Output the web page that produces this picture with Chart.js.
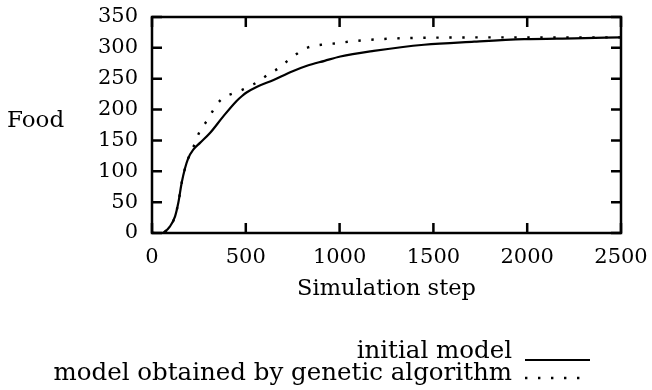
<!DOCTYPE html>
<html>
<head>
<meta charset="utf-8">
<style>
  html, body { margin: 0; padding: 0; background: #fff; }
</style>
</head>
<body>
<canvas id="foodChart" width="652" height="390"></canvas>
<script src="https://cdn.jsdelivr.net/npm/chart.js"></script>
<script>
// initial model
const initialSteps = [0, 50, 60, 96, 123, 140, 158, 176, 193, 220, 256, 309, 380, 451, 480, 506, 560, 648, 740, 826, 920, 1004, 1182, 1450, 1717, 1984, 2251, 2500];
const initialFood = [0, 0, 0.5, 10.7, 27, 48.5, 81, 105, 121, 135, 146, 162, 189, 214, 222, 228, 237, 248, 261, 271, 279, 286, 295, 305, 310, 314, 315.5, 317];

// model obtained by genetic algorithm
const gaSteps = [0, 50, 60, 96, 123, 140, 158, 176, 193, 211, 233, 256, 286, 318, 345, 381, 434, 488, 541, 577, 630, 675, 719, 764, 817, 921, 986, 1049, 1115, 1182, 1321, 1538, 1895, 2500];
const gaFood = [0, 0, 0.5, 10.7, 27, 48.5, 81, 105, 121, 132, 149, 165.5, 179, 195, 208, 219.5, 226.5, 233, 241, 248, 259, 267, 278, 288.5, 299, 305.8, 307.4, 310, 312, 313.5, 315.5, 316.6, 317, 317];

const xTicks = [0, 500, 1000, 1500, 2000, 2500];
const yTicks = [0, 50, 100, 150, 200, 250, 300, 350];

const FONT = 'DejaVu Serif';

function toPoints(xs, ys) {
    return xs.map((x, i) => ({ x: x, y: ys[i] }));
}

// frame with inward ticks on all four sides
const framePlugin = {
    id: 'frame',
    afterDatasetsDraw(chart) {
        const ctx = chart.ctx;
        const a = chart.chartArea;
        const xs = chart.scales.x, ys = chart.scales.y;
        const len = 10;
        ctx.save();
        ctx.strokeStyle = '#000';
        ctx.lineWidth = 2.5;
        ctx.beginPath();
        xTicks.forEach(v => {
            const px = xs.getPixelForValue(v);
            ctx.moveTo(px, a.bottom); ctx.lineTo(px, a.bottom - len);
            ctx.moveTo(px, a.top); ctx.lineTo(px, a.top + len);
        });
        yTicks.forEach(v => {
            const py = ys.getPixelForValue(v);
            ctx.moveTo(a.left, py); ctx.lineTo(a.left + len, py);
            ctx.moveTo(a.right, py); ctx.lineTo(a.right - len, py);
        });
        ctx.stroke();
        ctx.strokeRect(a.left, a.top, a.right - a.left, a.bottom - a.top);
        ctx.restore();
    }
};

// horizontal y title and the legend in the lower right
const labelsPlugin = {
    id: 'labels',
    afterDraw(chart) {
        const ctx = chart.ctx;
        ctx.save();
        ctx.fillStyle = '#000';
        ctx.textBaseline = 'alphabetic';
        ctx.textAlign = 'left';
        ctx.font = '23px "' + FONT + '"';
        ctx.fillText('Food', 7, 127);

        ctx.font = '24.5px "' + FONT + '"';
        const textRows = [358, 380];
        const lineRows = [360, 378];
        chart.data.datasets.forEach((ds, i) => {
            ctx.textAlign = 'right';
            ctx.fillText(ds.label, 512, textRows[i]);
            ctx.beginPath();
            ctx.setLineDash(ds.borderDash || []);
            ctx.lineWidth = ds.borderWidth;
            ctx.strokeStyle = ds.borderColor;
            ctx.moveTo(525, lineRows[i]);
            ctx.lineTo(590, lineRows[i]);
            ctx.stroke();
        });
        ctx.restore();
    }
};

new Chart(document.getElementById('foodChart'), {
    type: 'line',
    data: {
        datasets: [{
            label: 'initial model',
            data: toPoints(initialSteps, initialFood),
            borderColor: '#000',
            borderWidth: 2.2,
            pointRadius: 0,
            cubicInterpolationMode: 'monotone'
        }, {
            label: 'model obtained by genetic algorithm',
            data: toPoints(gaSteps, gaFood),
            borderColor: '#000',
            borderWidth: 2.4,
            borderDash: [2.4, 10.6],
            pointRadius: 0,
            cubicInterpolationMode: 'monotone'
        }]
    },
    options: {
        responsive: false,
        animation: false,
        layout: { padding: { left: 0, right: 31, top: 17, bottom: 87 } },
        plugins: {
            legend: { display: false },
            tooltip: { enabled: false }
        },
        scales: {
            x: {
                type: 'linear',
                min: 0,
                max: 2500,
                afterBuildTicks(scale) { scale.ticks = xTicks.map(v => ({ value: v })); },
                afterFit(scale) {
                    scale.height = 70;
                    scale.paddingLeft = 0;
                    scale.paddingRight = 0;
                },
                grid: { display: false, drawTicks: false },
                border: { display: false },
                ticks: {
                    color: '#000',
                    padding: 12,
                    font: { family: FONT, size: 21 },
                    callback: v => String(v)
                },
                title: {
                    display: true,
                    text: 'Simulation step',
                    color: '#000',
                    padding: 0,
                    font: { family: FONT, size: 22.5 }
                }
            },
            y: {
                min: 0,
                max: 350,
                afterBuildTicks(scale) { scale.ticks = yTicks.map(v => ({ value: v })); },
                afterFit(scale) {
                    scale.width = 152;
                    scale.paddingTop = 0;
                    scale.paddingBottom = 0;
                },
                grid: { display: false, drawTicks: false },
                border: { display: false },
                ticks: { color: '#000', padding: 14, font: { family: FONT, size: 21 } }
            }
        }
    },
    plugins: [framePlugin, labelsPlugin]
});
</script>
</body>
</html>
